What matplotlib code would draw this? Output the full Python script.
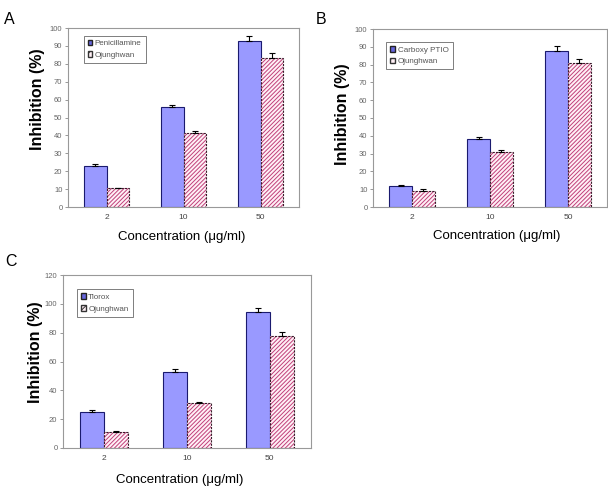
import matplotlib
matplotlib.use('Agg')
import matplotlib.pyplot as plt
from matplotlib.patches import Patch
import numpy as np

plt.rcParams['font.family'] = ['Liberation Sans', 'DejaVu Sans']
plt.rcParams['hatch.linewidth'] = 0.7

concentrations = ["2", "10", "50"]
drug_names = ["Penicillamine", "Carboxy PTIO", "Tlorox"]
ojunghwan_label = "Ojunghwan"

# panel A
drug_a = [23, 56, 92.7]
drug_a_err = [0.8, 1.0, 2.8]
oj_a = [10.5, 41.2, 83]
oj_a_err = [0.3, 1.0, 2.8]
# panel B
drug_b = [11.8, 38.2, 87.5]
drug_b_err = [0.8, 0.9, 3.0]
oj_b = [9.2, 30.7, 81]
oj_b_err = [0.7, 1.2, 2.2]
# panel C
drug_c = [25.2, 52.5, 94]
drug_c_err = [1.0, 2.0, 3.0]
oj_c = [11.3, 31, 77.7]
oj_c_err = [0.8, 1.0, 2.5]

# letter, drug, values..., ymax, ystep, axes rect, legend anchor, letter pos, ylabel coords, xlabel coords
panels = [
    ("A", drug_names[0], drug_a, drug_a_err, oj_a, oj_a_err, 100, 10,
     [68/608, 1-207/488, 231/608, 179/488], (0.05, 0.98), (9/608, 1-19/488),
     (-0.10, 0.6), (0.49, -0.134)),
    ("B", drug_names[1], drug_b, drug_b_err, oj_b, oj_b_err, 100, 10,
     [373/608, 1-207/488, 234/608, 178/488], (0.04, 0.95), (321/608, 1-19/488),
     (-0.098, 0.52), (0.53, -0.129)),
    ("C", drug_names[2], drug_c, drug_c_err, oj_c, oj_c_err, 120, 20,
     [63/608, 1-448/488, 248/608, 173/488], (0.04, 0.94), (11/608, 1-262/488),
     (-0.08, 0.555), (0.47, -0.15)),
]

fig = plt.figure(figsize=(6.08, 4.88), dpi=100)

x = np.arange(len(concentrations))
width = 0.29
hatch_col = '#C0407A'

for (letter, name, d, derr, o, oerr, ymax, ystep, rect, leg_pos, let_pos,
     ylab_xy, xlab_xy) in panels:
    ax = fig.add_axes(rect)
    ax.bar(x - width/2, d, width, color='#9999FF', edgecolor='#1a1a6e',
           linewidth=0.8, zorder=2)
    ax.bar(x + width/2, o, width, color='#FFF0F6', edgecolor=hatch_col,
           hatch='////////', linewidth=0, zorder=2)
    ax.bar(x + width/2, o, width, fill=False, edgecolor='#3a1a2a',
           linewidth=0.8, linestyle=(0, (2, 1)), zorder=3)
    ax.errorbar(x - width/2, d, yerr=[np.zeros(3), derr], fmt='none',
                ecolor='black', elinewidth=0.8, capsize=2, capthick=0.8, zorder=4)
    ax.errorbar(x + width/2, o, yerr=[np.zeros(3), oerr], fmt='none',
                ecolor='black', elinewidth=0.8, capsize=2, capthick=0.8, zorder=4)

    # legend handles, Excel style
    h1 = Patch(facecolor='#6666DD', edgecolor='#222222', label=name)
    h2 = Patch(facecolor='#FFF0F6', edgecolor='#333333', hatch='////', label=ojunghwan_label)
    leg = ax.legend(handles=[h1, h2], loc='upper left', bbox_to_anchor=leg_pos,
                    fontsize=5.8, handlelength=0.6, handleheight=0.7,
                    handletextpad=0.3, borderpad=0.5, labelspacing=0.5,
                    frameon=True, fancybox=False, shadow=False, labelcolor='#555555')
    leg.get_frame().set_edgecolor('#444444')
    leg.get_frame().set_linewidth(0.6)

    ax.set_xlim(-0.5, 2.5)
    ax.set_ylim(0, ymax)
    ax.set_yticks(np.arange(0, ymax + 1, ystep))
    ax.set_xticks(x, concentrations)
    ax.tick_params(axis='y', labelsize=5.5, labelcolor='#666666', length=2,
                   width=0.6, color='#888888', pad=2)
    ax.tick_params(axis='x', labelsize=6, labelcolor='#444444', length=0, pad=5)
    for s in ax.spines.values():
        s.set_color('#999999')
        s.set_linewidth(0.8)
    ax.set_ylabel('Inhibition (%)', fontsize=11.5, fontweight='bold')
    ax.yaxis.set_label_coords(*ylab_xy)
    ax.set_xlabel('Concentration (\u03bcg/ml)', fontsize=9.5)
    ax.xaxis.set_label_coords(*xlab_xy)
    fig.text(let_pos[0], let_pos[1], letter, fontsize=11.5, ha='center', va='center')

fig.savefig('out.png', dpi=100)
